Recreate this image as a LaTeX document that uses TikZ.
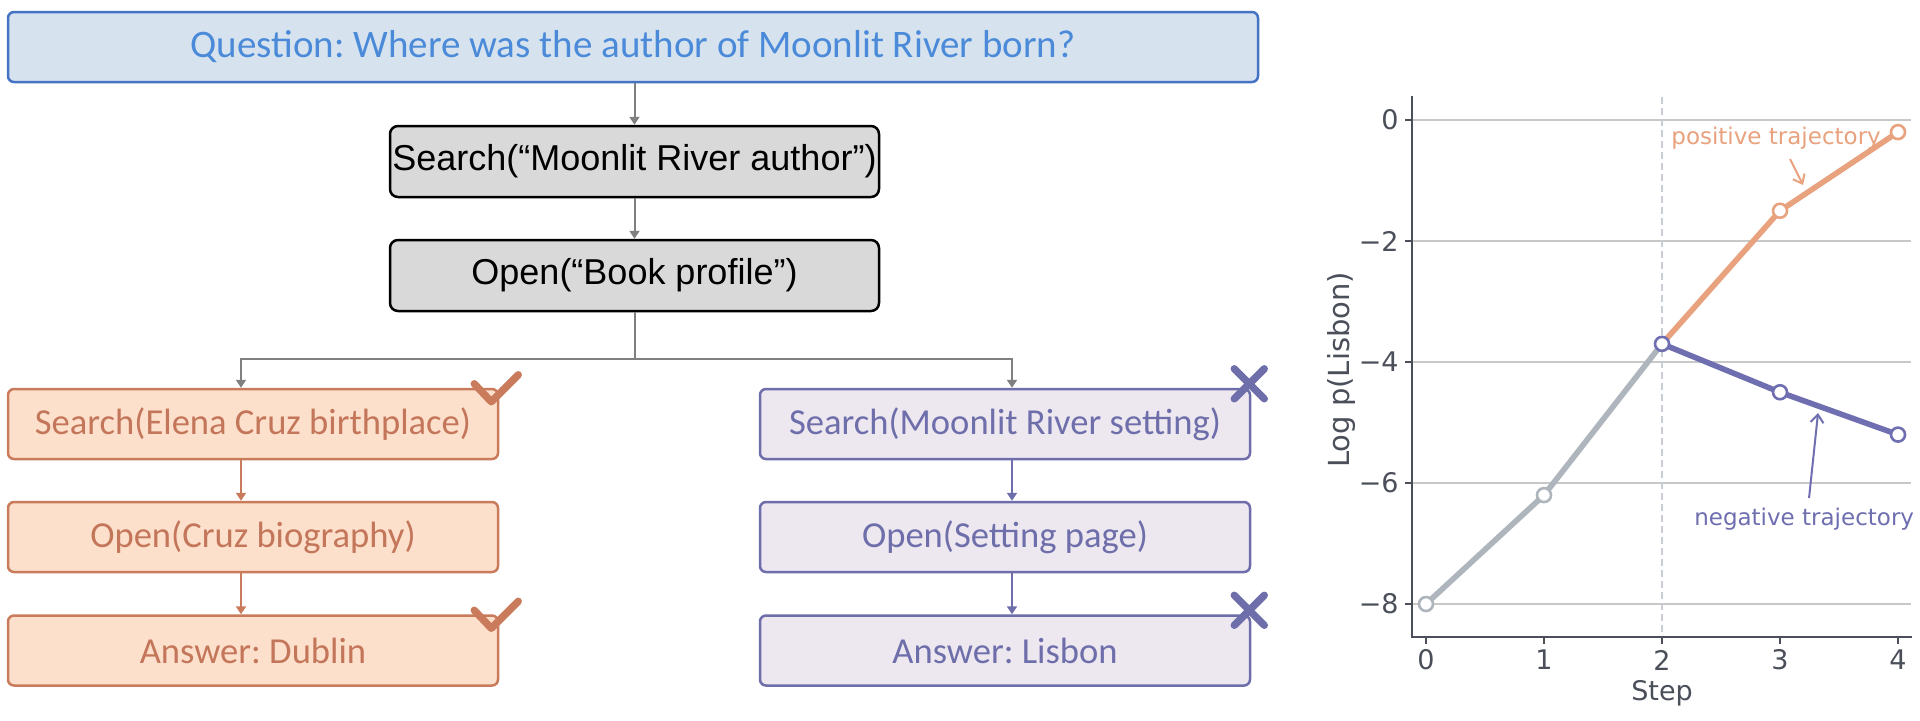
\documentclass[tikz,border=0pt]{standalone}
\usepackage{fontspec}
\setmainfont{Carlito}
\newfontfamily\arialf{Liberation Sans}
\newfontfamily\dvf{DejaVu Sans}
\usetikzlibrary{arrows.meta,calc}
\definecolor{qborder}{HTML}{4472C4}
\definecolor{qfill}{HTML}{D6E3EF}
\definecolor{qtext}{HTML}{4A8AD8}
\definecolor{gfill}{HTML}{D9D9D9}
\definecolor{garr}{HTML}{808080}
\definecolor{oborder}{HTML}{C97B5B}
\definecolor{ofill}{HTML}{FCE0CC}
\definecolor{otext}{HTML}{C4765A}
\definecolor{pborder}{HTML}{6E6EAA}
\definecolor{pfill}{HTML}{EDE8F0}
\definecolor{ptext}{HTML}{6E6EAA}
\definecolor{axc}{HTML}{4A4F5A}
\definecolor{gridc}{HTML}{C8C8C8}
\definecolor{grayline}{HTML}{AEB5BC}
\definecolor{posc}{HTML}{E9A27E}
\definecolor{negc}{HTML}{6E6EB0}
\definecolor{dashc}{HTML}{C8CCD4}
\frenchspacing
\begin{document}
\begin{tikzpicture}[x=0.5pt,y=-0.5pt,
  box/.style={rectangle, rounded corners=3pt, line width=1.25pt, inner sep=0pt,
    minimum height=35pt, minimum width=245pt, font=\fontsize{18.3}{20}\selectfont},
  qbox/.style={box, draw=qborder, fill=qfill, text=qtext, minimum width=625pt,
    font=\fontsize{19.5}{22}\selectfont},
  gbox/.style={box, draw=black, fill=gfill, text=black, rounded corners=4pt,
    minimum width=244.5pt, minimum height=35.5pt, font=\arialf\fontsize{18}{20}\selectfont},
  obox/.style={box, draw=oborder, fill=ofill, text=otext},
  pbox/.style={box, draw=pborder, fill=pfill, text=ptext},
  garrow/.style={draw=garr, line width=1pt, -{Triangle[length=4pt,width=5pt]}},
  gline/.style={draw=garr, line width=1pt},
  oarrow/.style={draw=oborder, line width=1pt, -{Triangle[length=4pt,width=5pt]}},
  parrow/.style={draw=pborder, line width=1pt, -{Triangle[length=4pt,width=5pt]}},
  okmark/.style={draw=oborder, line width=3.7pt, line cap=round, line join=round},
  xmark/.style={draw=pborder, line width=3.7pt, line cap=round},
  mk/.style={circle, draw=#1, fill=white, line width=1.3pt, inner sep=0pt, minimum size=7pt},
  tickl/.style={text=axc, font=\dvf\fontsize{13.5}{15}\selectfont},
  axl/.style={text=axc, font=\dvf\fontsize{13.5}{15}\selectfont},
  annl/.style={font=\dvf\fontsize{11.5}{14}\selectfont, inner sep=0pt}
]
\useasboundingbox (0,0) rectangle (1920,720);
\fill[white] (0,0) rectangle (1920,720);

% ---- flow chart ----
\node[qbox] (q) at (633,47) {Question: Where was the author of Moonlit River born?};
\node[gbox] (s1) at (634.5,161.5) {Search(“Moonlit River author”)};
\node[gbox] (s2) at (634.5,275.5) {Open(“Book profile”)};

\node[obox] (l1) at (253,424) {Search(Elena Cruz birthplace)};
\node[obox] (l2) at (253,537) {Open(Cruz biography)};
\node[obox] (l3) at (253,650.5) {Answer: Dublin};

\node[pbox] (r1) at (1005,424) {Search(Moonlit River setting)};
\node[pbox] (r2) at (1005,537) {Open(Setting page)};
\node[pbox] (r3) at (1005,650.5) {Answer: Lisbon};

\draw[garrow] (q.south -| s1.north) -- (s1.north);
\draw[garrow] (s1.south) -- (s2.north);
\coordinate (jl) at (241,359);
\coordinate (jr) at (1012,359);
\coordinate (jm) at (s2.south |- jl);
\draw[gline] (s2.south) -- (jm);
\draw[garrow] (jm) -- (jl) -- (jl |- l1.north);
\draw[garrow] (jm) -- (jr) -- (jr |- r1.north);

\draw[oarrow] (l1.south -| jl) -- (l2.north -| jl);
\draw[oarrow] (l2.south -| jl) -- (l3.north -| jl);
\draw[parrow] (r1.south -| jr) -- (r2.north -| jr);
\draw[parrow] (r2.south -| jr) -- (r3.north -| jr);

\draw[okmark] ($(l1.north east)+(-25,-4)$) -- ($(l1.north east)+(-8,14)$) -- ($(l1.north east)+(19,-13)$);
\draw[okmark] ($(l3.north east)+(-25,-4)$) -- ($(l3.north east)+(-8,14)$) -- ($(l3.north east)+(19,-13)$);
\draw[xmark] ($(r1.north east)+(-17,-19)$) -- ($(r1.north east)+(13,11)$);
\draw[xmark] ($(r1.north east)+(-17,11)$) -- ($(r1.north east)+(13,-19)$);
\draw[xmark] ($(r3.north east)+(-17,-19)$) -- ($(r3.north east)+(13,11)$);
\draw[xmark] ($(r3.north east)+(-17,11)$) -- ($(r3.north east)+(13,-19)$);

% ---- chart ----
\begin{scope}[shift={(1426,120)}, x=59pt, y=30.25pt]
  \foreach \v in {0,-2,-4,-6,-8} {
    \draw[gridc, line width=0.75pt] (-0.119,\v) -- (4.11,\v);
    \draw[axc, line width=0.8pt] (-0.119,\v) -- (-0.178,\v);
  }
  \foreach \v in {0,-2,-4,-6,-8}
    \node[tickl, anchor=east, inner sep=0pt] (yt\v) at (-0.229,\v) {\ifnum\v=0 0\else −\the\numexpr-\v\relax\fi};
  \foreach \s in {0,1,2,3,4} {
    \draw[axc, line width=0.8pt] (\s,-8.545) -- (\s,-8.661);
    \node[tickl, inner sep=0pt] (xt\s) at (\s,-8.926) {\s};
  }
  \draw[dashc, line width=1.3pt, dash pattern=on 3.5pt off 2pt] (2,0.38) -- (2,-8.545);
  \draw[axc, line width=1pt, line cap=rect] (-0.119,0.38) -- (-0.119,-8.545) -- (4.11,-8.545);
  \node[axl] (xl) at (2,-9.47) {Step};
  \node[axl, rotate=90, font=\dvf\fontsize{14.5}{16}\selectfont] (yl) at (-0.72,-4.13) {Log p(Lisbon)};

  \coordinate (p0) at (0,-8);
  \coordinate (p1) at (1,-6.2);
  \coordinate (p2) at (2,-3.7);
  \coordinate (a3) at (3,-1.5);
  \coordinate (a4) at (4,-0.2);
  \coordinate (b3) at (3,-4.5);
  \coordinate (b4) at (4,-5.2);
  \draw[grayline, line width=2.8pt, line join=round] (p0) -- (p1) -- (p2);
  \draw[posc, line width=2.8pt, line join=round] (p2) -- (a3) -- (a4);
  \draw[negc, line width=2.8pt, line join=round] (p2) -- (b3) -- (b4);

  \node[annl, text=posc, anchor=base west] (pt) at (2.076,-0.397) {positive trajectory};
  \node[annl, text=negc, anchor=base west] (nt) at (2.27,-6.71) {negative trajectory};
  \coordinate (pa) at (3.085,-0.645);
  \coordinate (pb) at (3.195,-1.074);
  \coordinate (na) at (3.246,-6.248);
  \coordinate (nb) at (3.322,-4.843);
  \draw[posc, line width=1pt, -{Straight Barb[length=4pt,width=6.5pt]}] (pa) -- (pb);
  \draw[negc, line width=1pt, -{Straight Barb[length=4pt,width=6.5pt]}] (na) -- (nb);

  \node[mk=grayline] (m0) at (p0) {};
  \node[mk=grayline] (m1) at (p1) {};
  \node[mk=posc] (m3) at (a3) {};
  \node[mk=posc] (m4) at (a4) {};
  \node[mk=negc] (m2) at (p2) {};
  \node[mk=negc] (n3) at (b3) {};
  \node[mk=negc] (n4) at (b4) {};
\end{scope}
\end{tikzpicture}
\end{document}
